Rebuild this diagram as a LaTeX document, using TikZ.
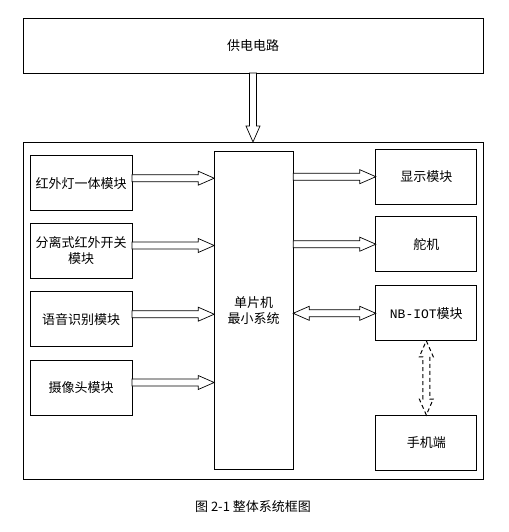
\documentclass[tikz,border=0pt]{standalone}
\usepackage{fontspec}
\setmainfont{Noto Sans CJK SC}
\newfontfamily\latinmono{Liberation Mono}
\usetikzlibrary{calc}

\tikzset{
  % hollow block arrow, drawn as an outline from start to target
  hollow/.style={draw, fill=white, line width=0.7pt, line join=miter, to path={
    ($(\tikztostart)!3.5pt!90:(\tikztotarget)$)
    -- ($(\tikztotarget)!16pt!(\tikztostart)!3.5pt!-90:(\tikztostart)$)
    -- ($(\tikztotarget)!16pt!(\tikztostart)!7pt!-90:(\tikztostart)$)
    -- (\tikztotarget)
    -- ($(\tikztotarget)!16pt!(\tikztostart)!7pt!90:(\tikztostart)$)
    -- ($(\tikztotarget)!16pt!(\tikztostart)!3.5pt!90:(\tikztostart)$)
    -- ($(\tikztostart)!3.5pt!-90:(\tikztotarget)$)
    -- cycle}},
  % same, with a head at both ends
  hollowboth/.style={draw, fill=white, line width=0.7pt, line join=miter, to path={
    (\tikztostart)
    -- ($(\tikztostart)!16pt!(\tikztotarget)!7pt!90:(\tikztotarget)$)
    -- ($(\tikztostart)!16pt!(\tikztotarget)!3.5pt!90:(\tikztotarget)$)
    -- ($(\tikztotarget)!16pt!(\tikztostart)!3.5pt!-90:(\tikztostart)$)
    -- ($(\tikztotarget)!16pt!(\tikztostart)!7pt!-90:(\tikztostart)$)
    -- (\tikztotarget)
    -- ($(\tikztotarget)!16pt!(\tikztostart)!7pt!90:(\tikztostart)$)
    -- ($(\tikztotarget)!16pt!(\tikztostart)!3.5pt!90:(\tikztostart)$)
    -- ($(\tikztostart)!16pt!(\tikztotarget)!3.5pt!-90:(\tikztotarget)$)
    -- ($(\tikztostart)!16pt!(\tikztotarget)!7pt!-90:(\tikztotarget)$)
    -- cycle}}
}

\begin{document}
\begin{tikzpicture}[x=1pt, y=-1pt,
    every node/.style={font=\fontsize{13}{16.5}\selectfont, align=center, inner sep=0pt, outer sep=0pt},
    box/.style={rectangle, draw, line width=0.7pt, minimum height=55pt},
    lbox/.style={box, minimum width=102pt},
    rbox/.style={box, minimum width=101pt}
  ]
  \useasboundingbox (0,0) rectangle (508,532);

  \node[box, minimum width=460pt] (power) at (253,45.5) {供电电路};
  \node[rectangle, draw, line width=0.7pt, minimum width=460pt, minimum height=337pt] (frame) at (253,310.5) {};

  \node[lbox] (ir)    at (81,183.2) {红外灯一体模块};
  \node[lbox] (sw)    at (81,250.5) {分离式红外开关\\模块};
  \node[lbox] (voice) at (81,319.2) {语音识别模块};
  \node[lbox] (cam)   at (81,387.5) {摄像头模块};

  \node[box, minimum width=79pt, minimum height=318pt] (mcu) at (253.7,310.8) {单片机\\最小系统};

  \node[rbox] (disp)  at (426.3,176.7) {显示模块};
  \node[rbox] (servo) at (426.3,244.2) {舵机};
  \node[rbox] (nb)    at (426.3,313.3) {{\latinmono NB-IOT}模块};
  \node[rbox] (phone) at (426.3,442.5) {手机端};

  % power into the system
  \draw[hollow] (power.south) to (power.south |- frame.north);

  % inputs
  \coordinate (a1) at ([yshift=5pt]ir.east);
  \coordinate (a2) at ([yshift=5pt]sw.east);
  \coordinate (a3) at ([yshift=5pt]voice.east);
  \coordinate (a4) at ([yshift=5pt]cam.east);
  \draw[hollow] (a1) to (a1 -| mcu.west);
  \draw[hollow] (a2) to (a2 -| mcu.west);
  \draw[hollow] (a3) to (a3 -| mcu.west);
  \draw[hollow] (a4) to (a4 -| mcu.west);

  % outputs
  \draw[hollow] (disp.west -| mcu.east) to (disp.west);
  \draw[hollow] (servo.west -| mcu.east) to (servo.west);
  \draw[hollowboth] (nb.west -| mcu.east) to (nb.west);
  \draw[hollowboth, line width=1pt, dash pattern=on 4pt off 3pt] (nb.south) to (phone.north);

  \node (cap) at (253,507) {图 2-1 整体系统框图};
\end{tikzpicture}
\end{document}
